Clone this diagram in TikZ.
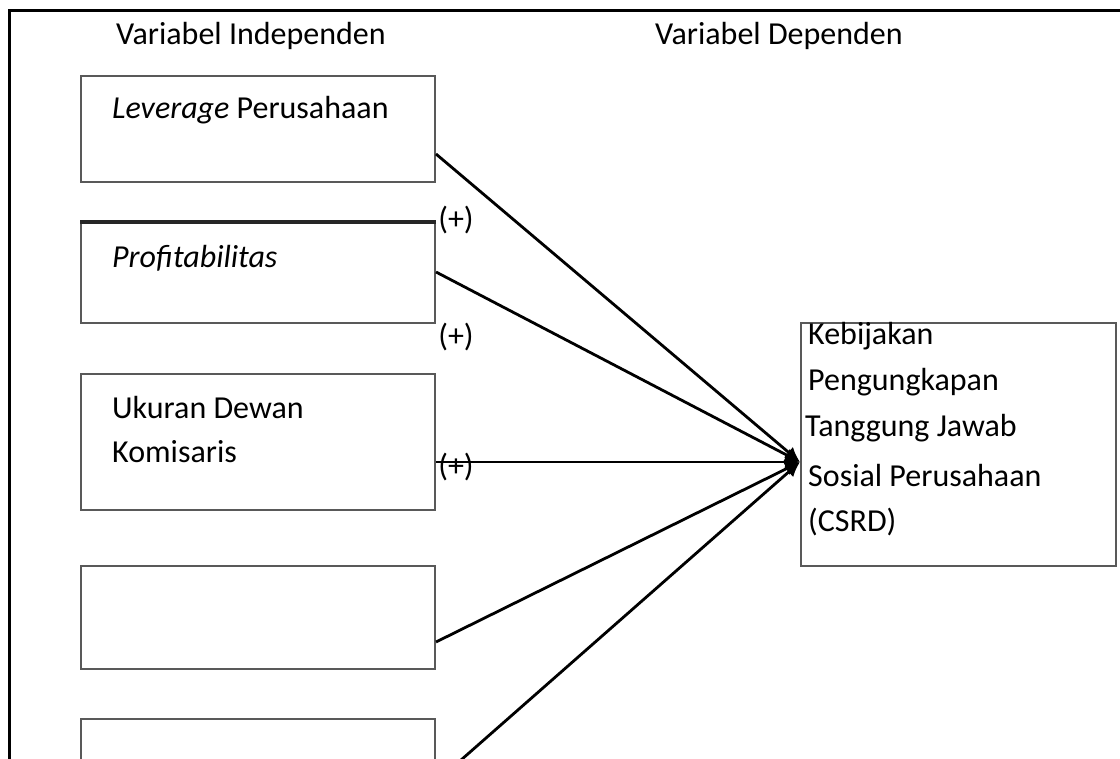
\documentclass[tikz,border=0pt]{standalone}
\usepackage{fontspec}
\setmainfont{Carlito}
\usetikzlibrary{arrows.meta,positioning}
\begin{document}
\begin{tikzpicture}[x=1pt,y=-1pt, box/.style={draw=black!65,line width=2pt,minimum width=354pt,inner sep=0pt,anchor=north west}, lbl/.style={font=\fontsize{32}{46}\selectfont,inner sep=0pt,anchor=base west}, sign/.style={font=\fontsize{32}{46}\selectfont,inner sep=0pt}, link/.style={line width=2.8pt}, >={Latex[length=15pt,width=14pt]}]
\clip (0,0) rectangle (1120,759);
\fill[white] (0,0) rectangle (1120,759);
\draw[line width=3pt] (9,790) -- (9,11) -- (1130,11);
\node[lbl] (hind) at (116,45) {Variabel Independen};
\node[lbl] (hdep) at (655,45) {Variabel Dependen};
\node[box,minimum height=106pt] (lev) at (80,75) {};
\node[box,minimum height=100pt] (prof) at (80,222) {};
\node[box,minimum height=136pt] (ukd) at (80,373) {};
\node[box,minimum height=103pt] (var4) at (80,565) {};
\node[box,minimum height=100pt] (var5) at (80,718) {};
\draw[line width=4pt,black!85] (prof.north west) -- (prof.north east);
\node[lbl] (tlev) at (112,119) {\textit{Leverage} Perusahaan};
\node[lbl] (tprof) at (112,268) {\textit{Profitabilitas}};
\node[lbl] (tukd1) at (112,418) {Ukuran Dewan};
\node[lbl] (tukd2) at (112,463) {Komisaris};
\node[box,minimum width=315pt,minimum height=243pt] (csrd) at (800,322) {};
\node[lbl] (tcs1) at (808,345) {Kebijakan};
\node[lbl] (tcs2) at (808,391) {Pengungkapan};
\node[lbl] (tcs3) at (805,437) {Tanggung Jawab};
\node[lbl] (tcs4) at (808,486) {Sosial Perusahaan};
\node[lbl] (tcs5) at (808,531) {(CSRD)};
\coordinate (tip) at (800,462);
\draw[link,->] ([yshift=29]lev.south east) -- (tip);
\draw[link,->] ([yshift=52]prof.south east) -- (tip);
\draw[link,->] (ukd.east |- tip) -- (tip);
\draw[link,->] ([yshift=28]var4.south east) -- (tip);
\draw[link,->] ([yshift=38]var5.south east) -- (tip);
\node[sign] (s1) at (456,220) {(+)};
\node[sign] (s2) at (456,337) {(+)};
\node[sign] (s3) at (456,467) {(+)};
\end{tikzpicture}
\end{document}
